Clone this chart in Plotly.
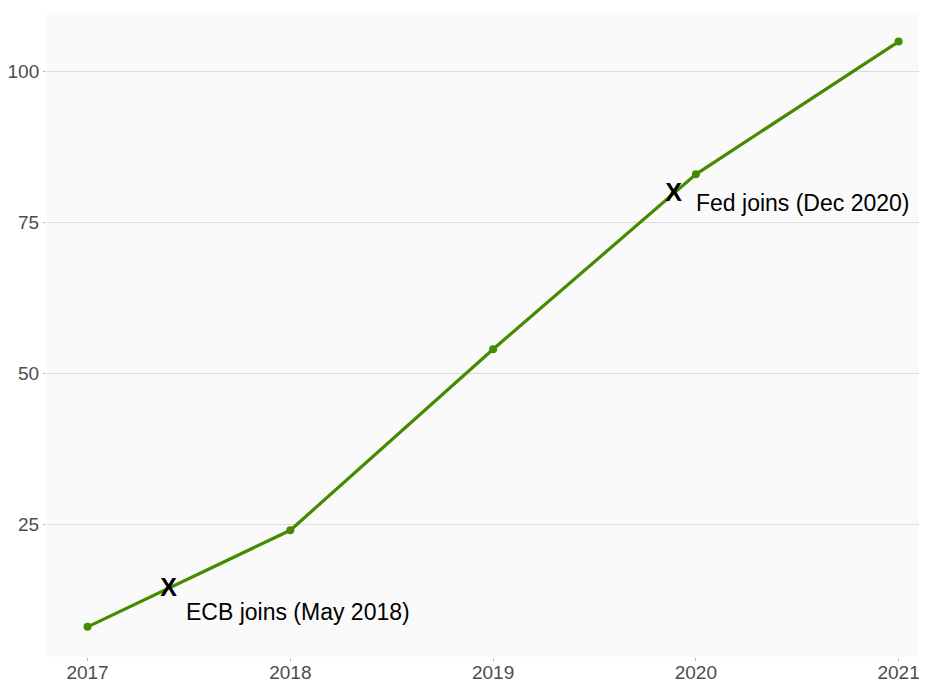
import plotly.graph_objects as go

years = [2017, 2018, 2019, 2020, 2021]
values = [8, 24, 54, 83, 105]

event_x = [2017.4, 2019.89]
event_y = [14.1, 79.6]
event_labels = ["ECB joins (May 2018)", "Fed joins (Dec 2020)"]
label_x = [2017.475, 2019.99]
label_y = [10.4, 78.2]

y_ticks = [25, 50, 75, 100]

green = "#458B00"

fig = go.Figure()
fig.add_trace(go.Scatter(
    x=years, y=values, mode="lines+markers",
    line=dict(color=green, width=3.2),
    marker=dict(color=green, size=8),
    hoverinfo="x+y", showlegend=False,
))
fig.add_trace(go.Scatter(
    x=event_x, y=event_y, mode="text",
    text=["<b>X</b>"] * len(event_x),
    textfont=dict(family="Liberation Sans, Arial", size=25, color="black"),
    textposition="middle center", showlegend=False, hoverinfo="skip",
))
for lx, ly, lt in zip(label_x, label_y, event_labels):
    fig.add_annotation(x=lx, y=ly, text=lt, showarrow=False,
                       xanchor="left", yanchor="middle",
                       font=dict(family="Liberation Sans, Arial", size=23, color="black"))

fig.update_layout(
    width=919, height=674,
    margin=dict(l=39, r=0, t=4, b=25),
    paper_bgcolor="white", plot_bgcolor="#fafafa",
    font=dict(family="Liberation Sans, Arial", size=19, color="#4d4d4d"),
)
fig.update_xaxes(
    range=[2016.8, 2021.14], tickvals=years, ticktext=[str(y) for y in years],
    showgrid=False, zeroline=False, ticks="outside", ticklen=3, tickcolor="#bbbbbb",
    tickfont=dict(size=19, color="#4d4d4d"), showline=False, automargin=False,
    ticklabelstandoff=-5,
)
fig.update_yaxes(
    range=[3.0, 109.9], tickvals=y_ticks, ticktext=[str(v) for v in y_ticks],
    showgrid=True, gridcolor="#dcdcdc", gridwidth=1.2, zeroline=False,
    ticks="outside", ticklen=3, tickcolor="#bbbbbb",
    tickfont=dict(size=19, color="#4d4d4d"), showline=False, automargin=False,
)

fig.write_html("out.html")
